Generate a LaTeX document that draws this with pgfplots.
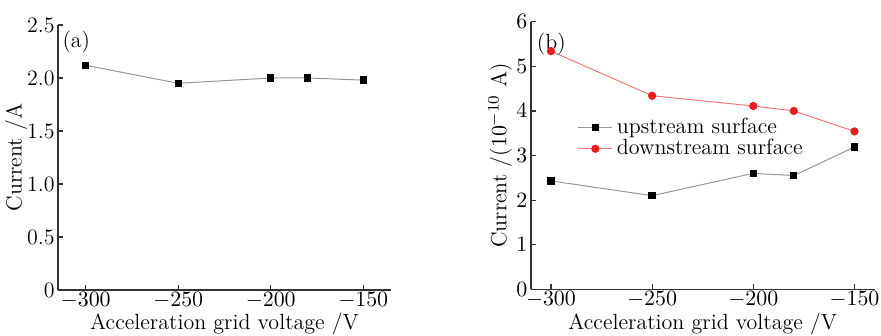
\documentclass[border=0pt]{standalone}
\usepackage{pgfplots}
\pgfplotsset{compat=1.18}
\definecolor{upline}{RGB}{150,150,150}
\definecolor{downline}{RGB}{240,120,120}
\definecolor{downmark}{RGB}{230,30,30}
\begin{document}
\begin{tikzpicture}
\path[use as bounding box] (0,0) rectangle (440.5pt,-168pt);
\pgfplotsset{
  every axis/.append style={
    scale only axis,
    axis lines=left,
    axis line style={-, color=black!80, line width=0.8pt},
    tick align=inside,
    major tick length=2.5pt,
    tick style={black!80, line width=0.6pt},
    font=\fontsize{11}{13}\selectfont,
    label style={font=\fontsize{11}{13}\selectfont},
    xtick={-300,-250,-200,-150},
    xticklabel style={inner sep=1pt},
    yticklabel style={inner sep=1.5pt},
    xlabel={Acceleration grid voltage /V},
    x label style={yshift=2pt},
    clip=false,
  },
}
\begin{axis}[
  at={(29pt,-145pt)}, anchor=south west,
  width=166.5pt, height=132.5pt,
  xmin=-315, xmax=-135, ymin=0, ymax=2.5,
  ytick={0,0.5,1.0,1.5,2.0,2.5},
  yticklabels={0,0.5,1.0,1.5,2.0,2.5},
  ylabel={Current /A},
  y label style={at={(axis description cs:-0.126,0.5)}, anchor=center},
]
\addplot[upline, line width=0.5pt, mark=square*, mark size=1.6pt, mark options={black, fill=black}]
  coordinates {(-300,2.12) (-250,1.95) (-200,2.00) (-180,2.00) (-150,1.98)};
\node at (rel axis cs:0.055,0.935) {(a)};
\end{axis}
\begin{axis}[
  at={(265.35pt,-144.65pt)}, anchor=south west,
  width=172pt, height=133.8pt,
  xmin=-310, xmax=-140, ymin=0, ymax=6,
  ytick={0,1,2,3,4,5,6},
  ylabel={Current /($10^{-10}$ A)},
  y label style={at={(axis description cs:-0.089,0.5)}, anchor=center},
  legend style={draw=none, fill=none, at={(rel axis cs:0.13,0.664)}, anchor=north west,
    font=\fontsize{11}{12}\selectfont, row sep=-2.5pt, inner sep=1pt},
  legend cell align=left,
]
\addplot[upline, line width=0.5pt, mark=square*, mark size=1.6pt, mark options={black, fill=black}]
  coordinates {(-300,2.43) (-250,2.10) (-200,2.60) (-180,2.55) (-150,3.19)};
\addlegendentry{upstream surface}
\addplot[downline, line width=0.5pt, mark=*, mark size=1.8pt, mark options={downmark, fill=downmark}]
  coordinates {(-300,5.34) (-250,4.34) (-200,4.11) (-180,4.00) (-150,3.54)};
\addlegendentry{downstream surface}
\node at (rel axis cs:0.06,0.915) {(b)};
\end{axis}
\end{tikzpicture}
\end{document}
